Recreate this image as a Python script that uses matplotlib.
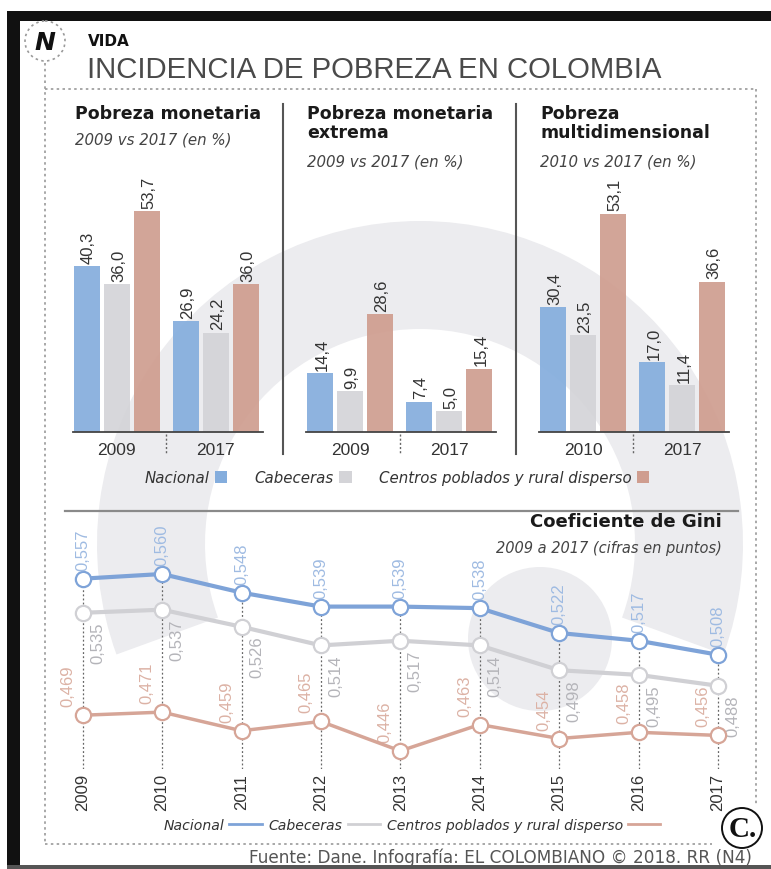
import numpy as np
import matplotlib.pyplot as plt
from matplotlib.patches import Wedge, Circle, Rectangle, Patch
from matplotlib.lines import Line2D
from matplotlib import font_manager

W, H = 771, 870

# --- data ---
series = ['Nacional', 'Cabeceras', 'Centros poblados y rural disperso']
panel_titles = ['Pobreza monetaria', 'Pobreza monetaria\nextrema', 'Pobreza\nmultidimensional']
panel_subtitles = ['2009 vs 2017 (en %)', '2009 vs 2017 (en %)', '2010 vs 2017 (en %)']
panel_years = [['2009', '2017'], ['2009', '2017'], ['2010', '2017']]
monetaria = [[40.3, 36.0, 53.7], [26.9, 24.2, 36.0]]
extrema = [[14.4, 9.9, 28.6], [7.4, 5.0, 15.4]]
multidim = [[30.4, 23.5, 53.1], [17.0, 11.4, 36.6]]

gini_years = [2009, 2010, 2011, 2012, 2013, 2014, 2015, 2016, 2017]
gini_nacional = [0.557, 0.560, 0.548, 0.539, 0.539, 0.538, 0.522, 0.517, 0.508]
gini_cabeceras = [0.535, 0.537, 0.526, 0.514, 0.517, 0.514, 0.498, 0.495, 0.488]
gini_rural = [0.469, 0.471, 0.459, 0.465, 0.446, 0.463, 0.454, 0.458, 0.456]

bar_colors = ['#84addd', '#d4d4d8', '#cf9d8f']
line_colors = ['#7ea3d8', '#d0d0d4', '#d6a597']
label_colors = ['#9fbbe2', '#b4b4b9', '#dcb2a5']

names = {f.name for f in font_manager.fontManager.ttflist}
NARROW = 'Liberation Sans Narrow' if 'Liberation Sans Narrow' in names else 'Liberation Sans'
SANS = 'Liberation Sans'

fig = plt.figure(figsize=(W / 100, H / 100), dpi=100)


def fax(left, top, width, height):
    # axes placed in pixel units of the reference image
    return fig.add_axes([left / W, 1 - (top + height) / H, width / W, height / H])


def fmt(v, nd):
    return f"{v:.{nd}f}".replace('.', ',')


# --- background / frame ---
bg = fig.add_axes([0, 0, 1, 1], zorder=0)
bg.set_xlim(0, W)
bg.set_ylim(H, 0)
bg.axis('off')

# watermark "C."
wm = '#ececef'
bg.add_patch(Wedge((420, 545), 323, -200, 20, width=108, color=wm, lw=0))
bg.add_patch(Circle((540, 640), 72, color=wm, lw=0))

bg.add_patch(Rectangle((7, 12), W, 10, color='#111111', lw=0))
bg.add_patch(Rectangle((7, 12), 13, H, color='#111111', lw=0))
bg.add_patch(Rectangle((7, 866), W, 4, color='#555555', lw=0))

dot = dict(color='#9a9a9a', lw=1.2, ls=(0, (1.5, 2)))
bg.plot([45, 45], [64, 845], **dot)
bg.plot([45, 756], [90, 90], **dot)
bg.plot([756, 756], [90, 805], **dot)
bg.plot([45, 712], [845, 845], **dot)
bg.add_patch(Circle((45, 42), 20, fill=False, ec='#9a9a9a', lw=1.2, ls=(0, (1.5, 2))))
bg.text(45, 43, 'N', fontsize=18, fontweight='bold', style='italic', ha='center', va='center', color='#111111')

bg.text(88, 42, 'VIDA', fontsize=11, fontweight='bold', ha='left', va='center', color='#111111')
bg.text(87, 70, 'INCIDENCIA DE POBREZA EN COLOMBIA', fontsize=21.2, family=SANS,
        ha='left', va='center', color='#4a4a4a')

# separators
bg.plot([283, 283], [105, 455], color='#555555', lw=1.5)
bg.plot([516, 516], [105, 455], color='#555555', lw=1.5)
bg.plot([65, 738], [512, 512], color='#8a8a8a', lw=1.6)

# --- bar panels ---
panels = [monetaria, extrema, multidim]
first_centers = [116.5, 350, 583]
title_x = [75, 307, 540]
sub_y = [140, 162, 162]
offsets = np.array([-30, 0, 30])
group_pos = np.array([0, 99])
scale = 4.11
for i, data in enumerate(panels):
    ax = fax(first_centers[i] - 50, 170, 200, 263)
    ax.set_xlim(-50, 150)
    ax.set_ylim(0, 263 / scale)
    ax.axis('off')
    ax.patch.set_alpha(0)
    for g, vals in enumerate(data):
        for s, v in enumerate(vals):
            x = group_pos[g] + offsets[s]
            ax.bar(x, v, width=26, color=bar_colors[s], alpha=0.92, lw=0)
            ax.text(x + 2, v + 0.8, fmt(v, 1), rotation=90, ha='center', va='bottom',
                    fontsize=12, family=NARROW, color='#333333')
        ax.text(group_pos[g], -4.3, panel_years[i][g], ha='center', va='center',
                fontsize=12.5, family=SANS, color='#333333', clip_on=False)
    ax.plot([-44, 146], [0, 0], color='#444444', lw=1.3, clip_on=False)
    ax.plot([49.5, 49.5], [-0.6, -5.2], color='#666666', lw=1, ls=(0, (1.5, 1.5)), clip_on=False)

    bg.text(title_x[i], 105, panel_titles[i], fontsize=12.5, fontweight='bold', ha='left', va='top',
            color='#1a1a1a', linespacing=1.1)
    bg.text(title_x[i], sub_y[i], panel_subtitles[i], fontsize=10.8, style='italic', ha='left',
            va='center', color='#444444')

bar_handles = [Patch(facecolor=c, edgecolor='none') for c in bar_colors]
leg1 = fig.legend(bar_handles, series, loc='center', bbox_to_anchor=(397 / W, 1 - 479 / H),
                  ncol=3, frameon=False, markerfirst=False, handlelength=0.85, handleheight=0.85,
                  handletextpad=0.35, columnspacing=1.8, prop={'style': 'italic', 'size': 10.8})
for t in leg1.get_texts():
    t.set_color('#333333')

# --- Gini line chart ---
bg.text(722, 522, 'Coeficiente de Gini', fontsize=13, fontweight='bold', ha='right', va='center',
        color='#1a1a1a')
bg.text(722, 549, '2009 a 2017 (cifras en puntos)', fontsize=10.5, style='italic', ha='right',
        va='center', color='#444444')

gx = fax(43, 540, 714.6, 230)
gx.set_xlim(2008.5, 2017.5)
gx.set_ylim(0.56 - 195 / 1552, 0.56 + 35 / 1552)
gx.patch.set_alpha(0)
for sp in gx.spines.values():
    sp.set_visible(False)
gx.set_yticks([])
gx.set_xticks(gini_years)
gx.set_xticklabels([str(y) for y in gini_years], rotation=90, fontsize=12, family=SANS, color='#333333')
gx.tick_params(axis='x', length=0, pad=3)

gx.vlines(gini_years, gx.get_ylim()[0], gini_nacional, colors='#666666', lw=0.9,
          linestyles=(0, (1.5, 1.8)), zorder=1)

gini_series = [gini_nacional, gini_cabeceras, gini_rural]
widths = [3, 3, 2.5]
label_off = [(0, 9, 'bottom'), (15, -9, 'top'), (-15, 9, 'bottom')]
for k, vals in enumerate(gini_series):
    gx.plot(gini_years, vals, color=line_colors[k], lw=widths[k], marker='o', ms=11,
            mfc='white', mec=line_colors[k], mew=1.6, zorder=3 + k)
    dx, dy, va = label_off[k]
    for x, v in zip(gini_years, vals):
        gx.annotate(fmt(v, 3), (x, v), xytext=(dx, dy), textcoords='offset pixels', rotation=90,
                    ha='center', va=va, fontsize=12, family=NARROW, color=label_colors[k])

line_handles = [Line2D([], [], color=c, lw=2) for c in line_colors]
leg2 = fig.legend(line_handles, series, loc='center', bbox_to_anchor=(412 / W, 1 - 826 / H),
                  ncol=3, frameon=False, markerfirst=False, handlelength=2.3,
                  handletextpad=0.35, columnspacing=0.5, prop={'style': 'italic', 'size': 10.1})
for t in leg2.get_texts():
    t.set_color('#333333')

# logo + source
bg.add_patch(Circle((742, 829), 20, fill=False, ec='#111111', lw=1.4))
bg.text(743, 830, 'C.', fontsize=21, fontweight='bold', family='Liberation Serif', ha='center',
        va='center', color='#111111')
bg.text(752, 858, 'Fuente: Dane. Infografía: EL COLOMBIANO © 2018. RR (N4)', fontsize=12.2,
        family='DejaVu Sans', ha='right', va='center', color='#555555')

fig.savefig('out.png', dpi=100)
